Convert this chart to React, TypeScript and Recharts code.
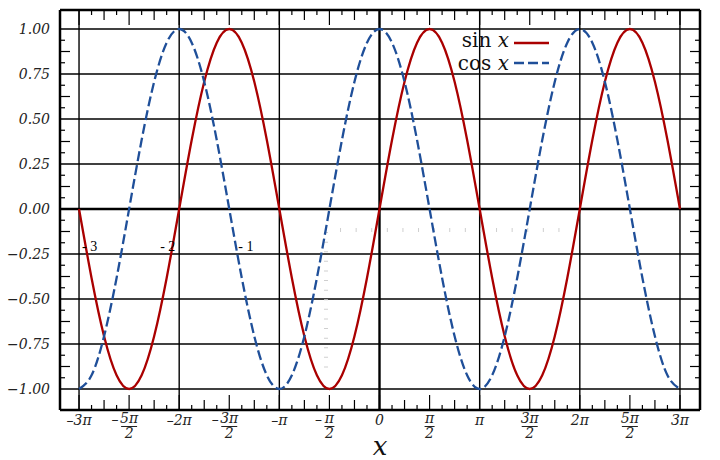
import React from 'react';
import {
  LineChart,
  Line,
  XAxis,
  YAxis,
  ReferenceLine,
  ReferenceDot,
  Legend,
  Label,
} from 'recharts';

// x positions in units of π
const xs = [
  -3, -2.875, -2.75, -2.625, -2.5, -2.375, -2.25, -2.125,
  -2, -1.875, -1.75, -1.625, -1.5, -1.375, -1.25, -1.125,
  -1, -0.875, -0.75, -0.625, -0.5, -0.375, -0.25, -0.125,
  0, 0.125, 0.25, 0.375, 0.5, 0.625, 0.75, 0.875,
  1, 1.125, 1.25, 1.375, 1.5, 1.625, 1.75, 1.875,
  2, 2.125, 2.25, 2.375, 2.5, 2.625, 2.75, 2.875, 3,
];

const sinValues = [
  0, -0.383, -0.707, -0.924, -1, -0.924, -0.707, -0.383,
  0, 0.383, 0.707, 0.924, 1, 0.924, 0.707, 0.383,
  0, -0.383, -0.707, -0.924, -1, -0.924, -0.707, -0.383,
  0, 0.383, 0.707, 0.924, 1, 0.924, 0.707, 0.383,
  0, -0.383, -0.707, -0.924, -1, -0.924, -0.707, -0.383,
  0, 0.383, 0.707, 0.924, 1, 0.924, 0.707, 0.383, 0,
];

const cosValues = [
  -1, -0.924, -0.707, -0.383, 0, 0.383, 0.707, 0.924,
  1, 0.924, 0.707, 0.383, 0, -0.383, -0.707, -0.924,
  -1, -0.924, -0.707, -0.383, 0, 0.383, 0.707, 0.924,
  1, 0.924, 0.707, 0.383, 0, -0.383, -0.707, -0.924,
  -1, -0.924, -0.707, -0.383, 0, 0.383, 0.707, 0.924,
  1, 0.924, 0.707, 0.383, 0, -0.383, -0.707, -0.924, -1,
];

// labelled x ticks (multiples of π/2)
const xTicks = [-3, -2.5, -2, -1.5, -1, -0.5, 0, 0.5, 1, 1.5, 2, 2.5, 3];
const xTickNum = ['–3π', '5π', '–2π', '3π', '–π', 'π', '0', 'π', 'π', '3π', '2π', '5π', '3π'];
const xTickDen = ['', '2', '', '2', '', '2', '', '2', '', '2', '', '2', ''];
const xTickSign = ['', '–', '', '–', '', '–', '', '', '', '', '', '', ''];

// minor x ticks
const xTicksQuarter = [
  -3, -2.75, -2.5, -2.25, -2, -1.75, -1.5, -1.25, -1, -0.75, -0.5, -0.25,
  0, 0.25, 0.5, 0.75, 1, 1.25, 1.5, 1.75, 2, 2.25, 2.5, 2.75, 3,
];
const xTicksEighth = xs;
const xGrid = [-3, -2, -1, 1, 2, 3];

const yTicks = [-1, -0.75, -0.5, -0.25, 0, 0.25, 0.5, 0.75, 1];
const yTickLabels = ['−1.00', '−0.75', '−0.50', '−0.25', '0.00', '0.25', '0.50', '0.75', '1.00'];
const yGrid = [-1, -0.75, -0.5, -0.25, 0.25, 0.5, 0.75, 1];
const yTicksEighth = [
  -1, -0.875, -0.75, -0.625, -0.5, -0.375, -0.25, -0.125,
  0, 0.125, 0.25, 0.375, 0.5, 0.625, 0.75, 0.875, 1,
];
const yTicksSixteenth = [
  -1, -0.9375, -0.875, -0.8125, -0.75, -0.6875, -0.625, -0.5625,
  -0.5, -0.4375, -0.375, -0.3125, -0.25, -0.1875, -0.125, -0.0625,
  0, 0.0625, 0.125, 0.1875, 0.25, 0.3125, 0.375, 0.4375,
  0.5, 0.5625, 0.625, 0.6875, 0.75, 0.8125, 0.875, 0.9375, 1,
];

// stray labels left over in the drawing
const strayX = [-2.97, -2.19, -1.41];
const strayText = ['- 3', '- 2', '- 1'];
const strayY = -0.233;

const X_DOMAIN = [-3.19, 3.2];
const Y_DOMAIN = [-1.1167, 1.1056];
const SIN = '#aa0000';
const COS = '#1f4f99';
const SERIF = '"DejaVu Serif", serif';
const BORDER = { stroke: '#000', strokeWidth: 2.5 };

const data = xs.map((x, i) => ({ x, sin: sinValues[i], cos: cosValues[i] }));

const xTickLen = (v: number) => (xTicks.includes(v) ? 15 : xTicksQuarter.includes(v) ? 10 : 5);
const yTickLen = (v: number) => (yTicks.includes(v) ? 0 : yTicksEighth.includes(v) ? 10 : 5);

// tick marks point into the plot; dir = +1 downward/rightward, -1 upward/leftward
function XMark(props: any) {
  const { x, y, payload, dir } = props;
  const len = xTickLen(payload.value);
  return <line x1={x} x2={x} y1={y} y2={y + dir * len} stroke="#000" strokeWidth={1.2} />;
}

function YMark(props: any) {
  const { x, y, payload, dir } = props;
  const len = yTickLen(payload.value);
  if (!len) return null;
  return <line x1={x} x2={x + dir * len} y1={y} y2={y} stroke="#000" strokeWidth={1.2} />;
}

function XTick(props: any) {
  const { x, y, payload } = props;
  const mark = <XMark x={x} y={y} payload={payload} dir={-1} />;
  const i = xTicks.indexOf(payload.value);
  if (i < 0) return mark;
  const txt = { fontFamily: SERIF, fontStyle: 'italic', fontSize: 14, fill: '#222' } as const;
  if (!xTickDen[i]) {
    return (
      <g>
        {mark}
        <text x={x} y={y + 15} textAnchor="middle" {...txt}>
          {xTickNum[i]}
        </text>
      </g>
    );
  }
  const half = xTickNum[i].length > 1 ? 8 : 5;
  return (
    <g>
      {mark}
      {xTickSign[i] && (
        <text x={x - half - 6} y={y + 14} textAnchor="middle" {...txt}>
          {xTickSign[i]}
        </text>
      )}
      <text x={x} y={y + 13} textAnchor="middle" {...txt}>
        {xTickNum[i]}
      </text>
      <line x1={x - half} x2={x + half} y1={y + 16.5} y2={y + 16.5} stroke="#222" strokeWidth={1} />
      <text x={x} y={y + 28} textAnchor="middle" {...txt}>
        {xTickDen[i]}
      </text>
    </g>
  );
}

function YTick(props: any) {
  const { x, y, payload } = props;
  const mark = <YMark x={x} y={y} payload={payload} dir={1} />;
  const i = yTicks.indexOf(payload.value);
  if (i < 0) return mark;
  return (
    <g>
      {mark}
      <text x={x - 10} y={y + 5} textAnchor="end" fontFamily={SERIF} fontStyle="italic" fontSize={14} fill="#222">
        {yTickLabels[i]}
      </text>
    </g>
  );
}

function LegendBox() {
  return (
    <svg width={112} height={52} style={{ overflow: 'visible' }}>
      <text x={69} y={22} textAnchor="end" fontFamily={SERIF} fontSize={20} fill="#111">
        sin <tspan fontStyle="italic">x</tspan>
      </text>
      <line x1={74} x2={109} y1={18} y2={18} stroke={SIN} strokeWidth={2.3} />
      <text x={69} y={45} textAnchor="end" fontFamily={SERIF} fontSize={20} fill="#111">
        cos <tspan fontStyle="italic">x</tspan>
      </text>
      <line x1={74} x2={109} y1={38} y2={38} stroke={COS} strokeWidth={2.3} strokeDasharray="10 4" />
    </svg>
  );
}

export default function App() {
  return (
    <div style={{ position: 'absolute', left: 0, top: 0, width: 720, height: 460, background: '#fff' }}>
      <LineChart width={720} height={460} data={data} margin={{ top: 9, right: 19, bottom: 0, left: 0 }}>
        <XAxis
          xAxisId="x"
          type="number"
          dataKey="x"
          domain={X_DOMAIN}
          allowDataOverflow
          ticks={xTicksEighth}
          interval={0}
          height={50}
          tickSize={0}
          tickMargin={0}
          tickLine={false}
          axisLine={BORDER}
          tick={<XTick />}
        >
          <Label
            content={(p: any) => (
              <text
                x={p.viewBox.x + p.viewBox.width / 2}
                y={p.viewBox.y + 45}
                textAnchor="middle"
                fontFamily={SERIF}
                fontStyle="italic"
                fontSize={26}
                fill="#111"
              >
                x
              </text>
            )}
          />
        </XAxis>
        <XAxis
          xAxisId="top"
          orientation="top"
          type="number"
          dataKey="x"
          domain={X_DOMAIN}
          allowDataOverflow
          ticks={xTicksEighth}
          interval={0}
          height={1}
          tickSize={0}
          tickMargin={0}
          tickLine={false}
          axisLine={BORDER}
          tick={<XMark dir={1} />}
        />
        <YAxis
          yAxisId="y"
          type="number"
          domain={Y_DOMAIN}
          allowDataOverflow
          ticks={yTicksSixteenth}
          interval={0}
          width={60}
          tickSize={0}
          tickMargin={0}
          tickLine={false}
          axisLine={BORDER}
          tick={<YTick />}
        />
        <YAxis
          yAxisId="right"
          orientation="right"
          type="number"
          domain={Y_DOMAIN}
          allowDataOverflow
          ticks={yTicksSixteenth}
          interval={0}
          width={1}
          tickSize={0}
          tickMargin={0}
          tickLine={false}
          axisLine={BORDER}
          tick={<YMark dir={-1} />}
        />

        {yGrid.map((g) => (
          <ReferenceLine key={'h' + g} xAxisId="x" yAxisId="y" y={g} stroke="#000" strokeWidth={1.4} />
        ))}
        {xGrid.map((g) => (
          <ReferenceLine key={'v' + g} xAxisId="x" yAxisId="y" x={g} stroke="#000" strokeWidth={1.4} />
        ))}
        <ReferenceLine xAxisId="x" yAxisId="y" x={0} stroke="#000" strokeWidth={2.4} />
        <ReferenceLine xAxisId="x" yAxisId="y" y={0} stroke="#000" strokeWidth={2.4} />

        <ReferenceLine
          xAxisId="x"
          yAxisId="y"
          segment={[{ x: -0.394, y: -0.117 }, { x: 1.83, y: -0.117 }]}
          stroke="#cfcfcf"
          strokeWidth={4}
          strokeDasharray="1 14.6"
        />
        <ReferenceLine
          xAxisId="x"
          yAxisId="y"
          segment={[{ x: -0.534, y: -0.128 }, { x: -0.534, y: -0.885 }]}
          stroke="#cfcfcf"
          strokeWidth={4}
          strokeDasharray="1 8.6"
        />
        {strayX.map((sx, i) => (
          <ReferenceDot
            key={sx}
            xAxisId="x"
            yAxisId="y"
            x={sx}
            y={strayY}
            r={0}
            shape={(p: any) => (
              <text x={p.cx} y={p.cy} fontFamily='"Liberation Serif", serif' fontSize={14} fill="#000">
                {strayText[i]}
              </text>
            )}
          />
        ))}

        <Line
          xAxisId="x"
          yAxisId="y"
          type="natural"
          dataKey="sin"
          stroke={SIN}
          strokeWidth={2.3}
          dot={false}
          isAnimationActive={false}
        />
        <Line
          xAxisId="x"
          yAxisId="y"
          type="natural"
          dataKey="cos"
          stroke={COS}
          strokeWidth={2.3}
          strokeDasharray="10 4"
          dot={false}
          isAnimationActive={false}
        />
        <Legend
          layout="vertical"
          align="center"
          verticalAlign="middle"
          wrapperStyle={{ left: 440, top: 25, width: 112 }}
          content={() => <LegendBox />}
        />
      </LineChart>
    </div>
  );
}
